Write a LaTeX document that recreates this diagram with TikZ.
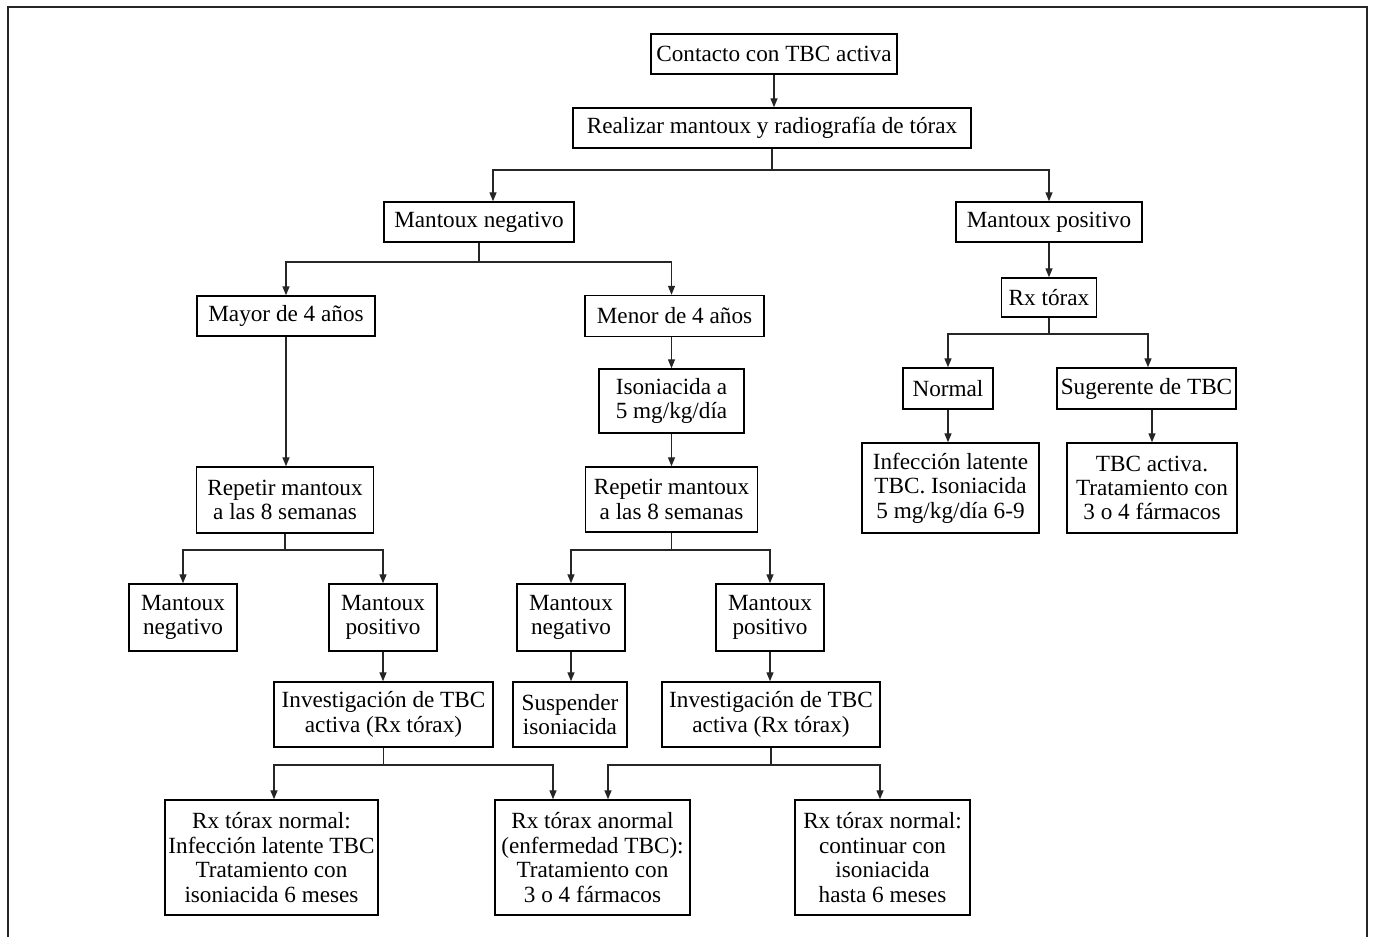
\documentclass[tikz,border=0pt]{standalone}
\usepackage{fontspec}
\setmainfont{Liberation Serif}
\usetikzlibrary{arrows.meta}
\newcommand{\fnt}{\fontsize{11.6}{12.2}\selectfont}
\begin{document}
\begin{tikzpicture}[x=0.5pt,y=-0.5pt,
  box/.style={draw, line width=0.7pt, align=center, inner sep=0pt, font=\fnt},
  arr/.style={-{Triangle[length=4.5pt,width=3.5pt]}, line width=0.65pt, draw=black!85},
  ln/.style={line width=0.65pt, draw=black!85}]
\useasboundingbox (0,0) rectangle (1373,937);
\draw[line width=1pt, draw=black!85] (7.5,937) -- (7.5,6.5) -- (1367,6.5) -- (1367,937);

\node[box, minimum width=123pt, minimum height=20pt] (n1) at (774,54) {Contacto con TBC activa};
\node[box, minimum width=199pt, minimum height=20pt] (n2) at (772,128) {Realizar mantoux y radiografía de tórax};
\node[box, minimum width=95pt, minimum height=20pt] (n3) at (479,222) {Mantoux negativo};
\node[box, minimum width=93pt, minimum height=20pt] (n4) at (1049,222) {Mantoux positivo};
\node[box, minimum width=89pt, minimum height=20pt] (n5) at (286,316) {Mayor de 4 años};
\node[box, minimum width=89.5pt, minimum height=20.5pt] (n6) at (674.5,316) {Menor de 4 años};
\node[box, minimum width=47.5pt, minimum height=19.5pt] (n7) at (1049,297.5) {Rx tórax};
\node[box, minimum width=45pt, minimum height=20.5pt] (n8) at (948,388.5) {Normal};
\node[box, minimum width=89.5pt, minimum height=20.5pt] (n9) at (1146.5,388.5) {Sugerente de TBC};
\node[box, minimum width=88.5pt, minimum height=45pt] (n10) at (950.5,488) {Infección latente\\TBC. Isoniacida\\5 mg/kg/día 6-9};
\node[box, minimum width=85pt, minimum height=45pt] (n11) at (1152,488) {TBC activa.\\Tratamiento con\\3 o 4 fármacos};
\node[box, minimum width=72.5pt, minimum height=32pt] (n12) at (671.5,401) {Isoniacida a\\5 mg/kg/día};
\node[box, minimum width=86pt, minimum height=32.5pt] (n13) at (671.5,499.5) {Repetir mantoux\\a las 8 semanas};
\node[box, minimum width=88.5pt, minimum height=33pt] (n14) at (285,500) {Repetir mantoux\\a las 8 semanas};
\node[box, minimum width=54pt, minimum height=33.5pt] (n15) at (183,617.5) {Mantoux\\negativo};
\node[box, minimum width=54pt, minimum height=33.5pt] (n16) at (383,617.5) {Mantoux\\positivo};
\node[box, minimum width=54pt, minimum height=33.5pt] (n17) at (571,617.5) {Mantoux\\negativo};
\node[box, minimum width=54pt, minimum height=33.5pt] (n18) at (770,617.5) {Mantoux\\positivo};
\node[box, minimum width=109.5pt, minimum height=32.5pt] (n19) at (383.5,714.5) {Investigación de TBC\\activa (Rx tórax)};
\node[box, minimum width=57pt, minimum height=32.5pt] (n20) at (570,714.5) {Suspender\\isoniacida};
\node[box, minimum width=109pt, minimum height=32.5pt] (n21) at (771,714.5) {Investigación de TBC\\activa (Rx tórax)};
\node[box, minimum width=106.5pt, minimum height=57.5pt] (n22) at (271.5,857.5) {Rx tórax normal:\\Infección latente TBC\\Tratamiento con\\isoniacida 6 meses};
\node[box, minimum width=97.5pt, minimum height=57.5pt] (n23) at (592.5,857.5) {Rx tórax anormal\\(enfermedad TBC):\\Tratamiento con\\3 o 4 fármacos};
\node[box, minimum width=87.5pt, minimum height=57.5pt] (n24) at (882.5,857.5) {Rx tórax normal:\\continuar con\\isoniacida\\hasta 6 meses};

% junctions
\coordinate (j1) at (772,170);
\coordinate (j2) at (479,262);
\coordinate (j3) at (1049,334);
\coordinate (j4) at (285,550);
\coordinate (j5) at (671.5,550);
\coordinate (j6) at (383.5,765);
\coordinate (j7) at (771,765);

\draw[arr] (n1.south) -- (n1.south |- n2.north);
\draw[ln] (n2.south) -- (j1);
\draw[arr] (j1) -| ([xshift=7pt]n3.north);
\draw[arr] (j1) -| (n4.north);

\draw[ln] (n3.south) -- (j2);
\draw[arr] (j2) -| (n5.north);
\draw[arr] (j2) -| ([xshift=-1.5pt]n6.north);

\draw[arr] (n12.north |- n6.south) -- (n12.north);
\draw[arr] (n12.south) -- (n12.south |- n13.north);
\draw[arr] (n5.south) -- (n5.south |- n14.north);

\draw[ln] (n14.south) -- (j4);
\draw[arr] (j4) -| (n15.north);
\draw[arr] (j4) -| (n16.north);

\draw[ln] (n13.south) -- (j5);
\draw[arr] (j5) -| (n17.north);
\draw[arr] (j5) -| (n18.north);

\draw[arr] (n4.south) -- (n4.south |- n7.north);
\draw[ln] (n7.south) -- (j3);
\draw[arr] (j3) -| (n8.north);
\draw[arr] (j3) -| ([xshift=0.75pt]n9.north);
\draw[arr] (n8.south) -- (n8.south |- n10.north);
\draw[arr] (n11.north |- n9.south) -- (n11.north);

\draw[arr] (n16.south) -- (n16.south |- n19.north);
\draw[arr] (n17.south) -- (n17.south |- n20.north);
\draw[arr] (n18.south) -- (n18.south |- n21.north);

\draw[ln] (n19.south) -- (j6);
\draw[arr] (j6) -| ([xshift=1.25pt]n22.north);
\draw[arr] (j6) -| ([xshift=-19.75pt]n23.north);

\draw[ln] (n21.south) -- (j7);
\draw[arr] (j7) -| ([xshift=7.75pt]n23.north);
\draw[arr] (j7) -| ([xshift=-1.25pt]n24.north);
\end{tikzpicture}
\end{document}
